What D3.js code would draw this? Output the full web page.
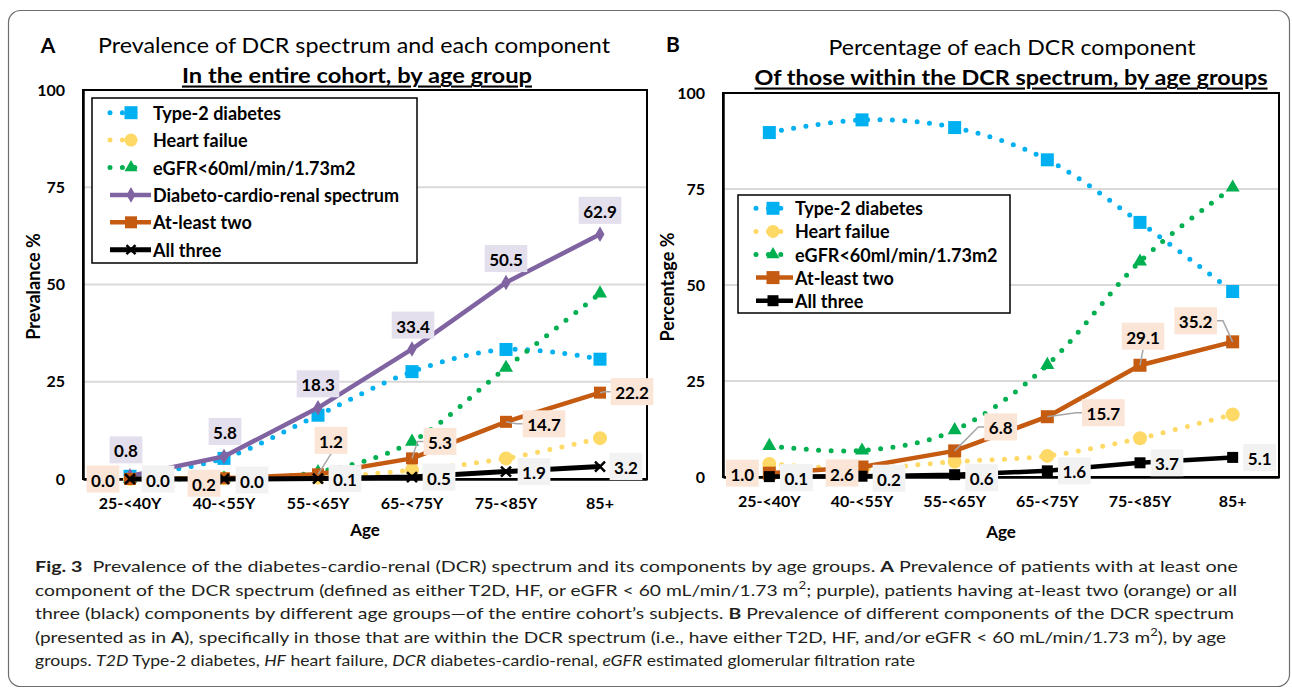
<!DOCTYPE html>
<html>
<head>
<meta charset="utf-8">
<script src="https://cdn.jsdelivr.net/npm/d3@7"></script>
<style>
  body { margin: 0; background: #fff; }
  svg { display: block; }
  text { font-family: Lato, "Open Sans", sans-serif; }
</style>
</head>
<body>
<svg></svg>
<script>
const width = 1292, height = 689;
const svg = d3.select("svg").attr("width", width).attr("height", height);

// ---- data ----
const ageGroups = ["25-<40Y", "40-<55Y", "55-<65Y", "65-<75Y", "75-<85Y", "85+"];
const yTicks = [0, 25, 50, 75, 100];

// Panel A: % of the entire cohort
const aT2D   = [0.7, 5.3, 16.4, 27.6, 33.3, 30.8];
const aHF    = [0.0, 0.2, 0.4, 2.3, 5.3, 10.5];
const aEGFR  = [0.0, 0.2, 1.8, 9.6, 28.6, 47.7];
const aDCR   = [0.8, 5.8, 18.3, 33.4, 50.5, 62.9];
const aTwo   = [0.0, 0.2, 1.2, 5.3, 14.7, 22.2];
const aThree = [0.0, 0.0, 0.1, 0.5, 1.9, 3.2];

// Panel B: % of those within the DCR spectrum
const bT2D   = [89.7, 93.0, 91.0, 82.6, 66.3, 48.3];
const bHF    = [3.4, 2.2, 4.0, 5.5, 10.1, 16.3];
const bEGFR  = [8.1, 6.9, 12.2, 29.2, 56.1, 75.4];
const bTwo   = [1.0, 2.6, 6.8, 15.7, 29.1, 35.2];
const bThree = [0.1, 0.2, 0.6, 1.6, 3.7, 5.1];

// data label placement, relative to the point (dx, dy, leader line?)
const aDCRLab   = [[-4,-26],[1,-25],[0,-24],[1,-24],[0,-24],[0,-24]];
const aTwoLab   = [[-27,0],[-20,5],[13,-34,1],[28,-17,1],[38,2,1],[32,-1,1]];
const aThreeLab = [[28,0],[28,1],[27,0],[27,0],[28,0],[26,0]];
const bTwoLab   = [[-27,0],[-20,6],[46,-24,1],[56,-4,1],[3,-29,1],[-37,-21,1]];
const bThreeLab = [[27,1],[27,2],[27,3],[27,0],[27,0],[27,0]];

const C = {
  blue: "#00b0f0", yellow: "#ffd966", green: "#00b050",
  purple: "#8064a2", orange: "#c55a11", black: "#000"
};

const panelA = {
  left: 83, right: 647, top: 90, bottom: 479,
  letter: "A", letterX: 48, letterY: 44,
  title: "Prevalence of DCR spectrum and each component", titleX: 354, titleY: 44, titleW: 512,
  sub: "In the entire cohort, by age group", subX: 357, subY: 74, subW: 350,
  yTitle: "Prevalance %", yTitleX: 33, ageY: 529,
  legend: { x: 92, y: 98, w: 325, h: 165, row0: 112.7, step: 27.4, lx0: 110, lx1: 151, mx: 131, tx: 153 },
  series: [
    { name: "Type-2 diabetes", v: aT2D, color: C.blue, dotted: true, mk: "square", ms: 13 },
    { name: "Heart failue", v: aHF, color: C.yellow, dotted: true, mk: "circle", ms: 14 },
    { name: "eGFR<60ml/min/1.73m2", v: aEGFR, color: C.green, dotted: true, mk: "triangle", ms: 14 },
    { name: "Diabeto-cardio-renal spectrum", v: aDCR, color: C.purple, mk: "diamond", ms: 14, lab: aDCRLab, bg: "#e4dfec" },
    { name: "At-least two", v: aTwo, color: C.orange, mk: "square", ms: 12, lab: aTwoLab, bg: "#fbe5d6" },
    { name: "All three", v: aThree, color: C.black, mk: "x", ms: 10, lab: aThreeLab, bg: "#f2f2f2" }
  ]
};

const panelB = {
  left: 723, right: 1279, top: 93, bottom: 477,
  letter: "B", letterX: 673, letterY: 43,
  title: "Percentage of each DCR component", titleX: 1012, titleY: 46, titleW: 367,
  sub: "Of those within the DCR spectrum, by age groups", subX: 1011, subY: 76, subW: 513,
  yTitle: "Percentage %", yTitleX: 667, ageY: 531,
  legend: { x: 738, y: 195, w: 272, h: 118, row0: 208.3, step: 23.1, lx0: 756, lx1: 793, mx: 773, tx: 795 },
  series: [
    { name: "Type-2 diabetes", v: bT2D, color: C.blue, dotted: true, mk: "square", ms: 13 },
    { name: "Heart failue", v: bHF, color: C.yellow, dotted: true, mk: "circle", ms: 14 },
    { name: "eGFR<60ml/min/1.73m2", v: bEGFR, color: C.green, dotted: true, mk: "triangle", ms: 14 },
    { name: "At-least two", v: bTwo, color: C.orange, mk: "square", ms: 13, lab: bTwoLab, bg: "#fbe5d6" },
    { name: "All three", v: bThree, color: C.black, mk: "square", ms: 11, lab: bThreeLab, bg: "#f2f2f2" }
  ]
};

const captionLines = [
  [["Fig. 3", "b"], ["  Prevalence of the diabetes-cardio-renal (DCR) spectrum and its components by age groups. "], ["A", "b"], [" Prevalence of patients with at least one"]],
  [["component of the DCR spectrum (defined as either T2D, HF, or eGFR < 60 mL/min/1.73 m"], ["2", "sup"], ["; purple), patients having at-least two (orange) or all"]],
  [["three (black) components by different age groups\u2014of the entire cohort\u2019s subjects. "], ["B", "b"], [" Prevalence of different components of the DCR spectrum"]],
  [["(presented as in "], ["A", "b"], ["), specifically in those that are within the DCR spectrum (i.e., have either T2D, HF, and/or eGFR < 60 mL/min/1.73 m"], ["2", "sup"], ["), by age"]],
  [["groups. "], ["T2D", "i"], [" Type-2 diabetes, "], ["HF", "i"], [" heart failure, "], ["DCR", "i"], [" diabetes-cardio-renal, "], ["eGFR", "i"], [" estimated glomerular filtration rate"]]
];
const captionWidths = [1203, 1202, 1199, 1191, 880];

// ---- figure frame ----
svg.append("rect")
  .attr("x", 8.5).attr("y", 10.5).attr("width", 1281).attr("height", 676).attr("rx", 12)
  .attr("fill", "none").attr("stroke", "#6d6e71").attr("stroke-width", 1.2);

function drawMarker(g, s, px, py) {
  if (s.mk === "x") {
    const h = s.ms / 2;
    g.append("path").attr("d", `M${px-h},${py-h}L${px+h},${py+h}M${px-h},${py+h}L${px+h},${py-h}`)
      .attr("stroke", s.color).attr("stroke-width", 2.5);
    return;
  }
  if (s.mk === "circle") {
    g.append("circle").attr("cx", px).attr("cy", py).attr("r", s.ms / 2).attr("fill", s.color);
    return;
  }
  let type = d3.symbolSquare, size = s.ms * s.ms;
  if (s.mk === "triangle") { type = d3.symbolTriangle; size = s.ms * s.ms * Math.sqrt(3) / 4; }
  if (s.mk === "diamond") { type = d3.symbolDiamond; size = 70; }
  g.append("path").attr("d", d3.symbol(type, size)())
    .attr("transform", `translate(${px},${py})`).attr("fill", s.color);
}

function styleLine(sel, s) {
  sel.attr("fill", "none").attr("stroke", s.color);
  if (s.dotted) sel.attr("stroke-width", 5).attr("stroke-dasharray", "0 12.4").attr("stroke-linecap", "round");
  else sel.attr("stroke-width", s.mk === "x" ? 5 : 4.5).attr("stroke-linejoin", "round");
}

function drawPanel(p) {
  const x = d3.scaleBand().domain(ageGroups).range([p.left, p.right]);
  const y = d3.scaleLinear().domain([0, 100]).range([p.bottom, p.top]);
  const cx = i => x(ageGroups[i]) + x.bandwidth() / 2;
  const g = svg.append("g");

  // titles
  g.append("text").attr("x", p.letterX).attr("y", p.letterY).attr("text-anchor", "middle")
    .attr("dominant-baseline", "central").attr("font-size", 21).attr("font-weight", "bold").text(p.letter);
  g.append("text").attr("x", p.titleX).attr("y", p.titleY).attr("text-anchor", "middle")
    .attr("dominant-baseline", "central").attr("font-size", 21)
    .attr("textLength", p.titleW).attr("lengthAdjust", "spacingAndGlyphs").text(p.title);
  g.append("text").attr("x", p.subX).attr("y", p.subY).attr("text-anchor", "middle")
    .attr("dominant-baseline", "central").attr("font-size", 21).attr("font-weight", "bold")
    .attr("text-decoration", "underline")
    .attr("textLength", p.subW).attr("lengthAdjust", "spacingAndGlyphs").text(p.sub);

  // gridlines
  g.selectAll(".grid").data(yTicks.filter(t => t > 0 && t < 100)).enter().append("line")
    .attr("x1", p.left).attr("x2", p.right)
    .attr("y1", d => y(d)).attr("y2", d => y(d))
    .attr("stroke", "#d9d9d9").attr("stroke-width", 2);

  // plot-area frame
  g.append("rect").attr("x", p.left).attr("y", p.top)
    .attr("width", p.right - p.left).attr("height", p.bottom - p.top)
    .attr("fill", "none").attr("stroke", "#000").attr("stroke-width", 2);

  // axes
  const yAxis = g.append("g").attr("transform", `translate(${p.left},0)`)
    .call(d3.axisLeft(y).tickValues(yTicks).tickSize(0).tickSizeOuter(0).tickPadding(18));
  yAxis.attr("font-family", null).attr("font-size", 16).attr("font-weight", "bold");
  yAxis.select(".domain").attr("stroke-width", 2.5);

  const xAxis = g.append("g").attr("transform", `translate(0,${p.bottom})`)
    .call(d3.axisBottom(x).tickSize(0).tickSizeOuter(0).tickPadding(19));
  xAxis.attr("font-family", null).attr("font-size", 16).attr("font-weight", "bold");
  xAxis.select(".domain").attr("stroke-width", 2.5);

  g.append("text").attr("x", (p.left + p.right) / 2).attr("y", p.ageY)
    .attr("text-anchor", "middle").attr("dominant-baseline", "central")
    .attr("font-size", 17).attr("font-weight", "bold").text("Age");
  g.append("text").attr("transform", `translate(${p.yTitleX},${(p.top + p.bottom) / 2 + 2}) rotate(-90)`)
    .attr("text-anchor", "middle").attr("dominant-baseline", "central")
    .attr("font-size", 18).attr("font-weight", "bold").text(p.yTitle);

  // legend
  const L = p.legend;
  const lg = g.append("g");
  lg.append("rect").attr("x", L.x).attr("y", L.y).attr("width", L.w).attr("height", L.h)
    .attr("fill", "#fff").attr("stroke", "#000").attr("stroke-width", 1.5);
  p.series.forEach((s, k) => {
    const ry = L.row0 + k * L.step;
    const ln = lg.append("line").attr("x1", L.lx0).attr("x2", L.lx1).attr("y1", ry).attr("y2", ry);
    styleLine(ln, s);
    if (s.dotted) ln.attr("x2", L.lx1 - 5);
    drawMarker(lg, Object.assign({}, s, { ms: s.mk === "x" ? 9 : Math.min(s.ms, 13) }), L.mx, ry);
    lg.append("text").attr("x", L.tx).attr("y", ry).attr("dominant-baseline", "central")
      .attr("font-size", 18).attr("font-weight", "bold").text(s.name);
  });

  // series lines + markers
  const marks = g.append("g");
  p.series.forEach(s => {
    const line = d3.line().x((d, i) => cx(i)).y(d => y(d));
    if (s.dotted) line.curve(d3.curveCardinal.tension(0));
    styleLine(marks.append("path").datum(s.v).attr("d", line), s);
    s.v.forEach((d, i) => drawMarker(marks, s, cx(i), y(d)));
  });

  // data labels
  const labs = g.append("g");
  const fmt = d3.format(".1f");
  p.series.filter(s => s.lab).forEach(s => {
    s.v.forEach((d, i) => {
      const px = cx(i), py = y(d);
      const [dx, dy, leader] = s.lab[i];
      const lx = px + dx, ly = py + dy;
      const t = labs.append("text").attr("x", lx).attr("y", ly + 1)
        .attr("text-anchor", "middle").attr("dominant-baseline", "central")
        .attr("font-size", 17).attr("font-weight", "bold").text(fmt(d));
      const tw = t.node().getComputedTextLength() + 9, th = 27;
      if (leader) {
        let pts;
        if (Math.abs(dx) < tw / 2) pts = [[px, py], [lx, ly + th / 2]];
        else if (dx > 0) pts = [[px, py], [lx - tw / 2 - 6, ly], [lx - tw / 2, ly]];
        else pts = [[px, py], [lx + tw / 2 + 6, ly], [lx + tw / 2, ly]];
        labs.insert("path", "text").attr("d", d3.line()(pts))
          .attr("fill", "none").attr("stroke", "#a6a6a6").attr("stroke-width", 1.5);
      }
      labs.insert("rect", () => t.node())
        .attr("x", lx - tw / 2).attr("y", ly - th / 2).attr("width", tw).attr("height", th)
        .attr("fill", s.bg);
    });
  });
}

drawPanel(panelA);
drawPanel(panelB);

// ---- caption ----
const cap = svg.append("g");
captionLines.forEach((segs, k) => {
  const t = cap.append("text").attr("x", 35).attr("y", 572 + k * 23.6)
    .attr("font-family", "'Open Sans', sans-serif").attr("font-size", 16)
    .attr("fill", "#231f20").style("white-space", "pre")
    .attr("textLength", captionWidths[k]).attr("lengthAdjust", "spacingAndGlyphs");
  let raised = false;
  segs.forEach(([txt, st]) => {
    const ts = t.append("tspan").text(txt);
    if (st === "b") ts.attr("font-weight", "bold");
    if (st === "i") ts.attr("font-style", "italic");
    if (st === "sup") { ts.attr("font-size", 11).attr("dy", -7); raised = true; }
    else if (raised) { ts.attr("dy", 7); raised = false; }
  });
});
</script>
</body>
</html>
